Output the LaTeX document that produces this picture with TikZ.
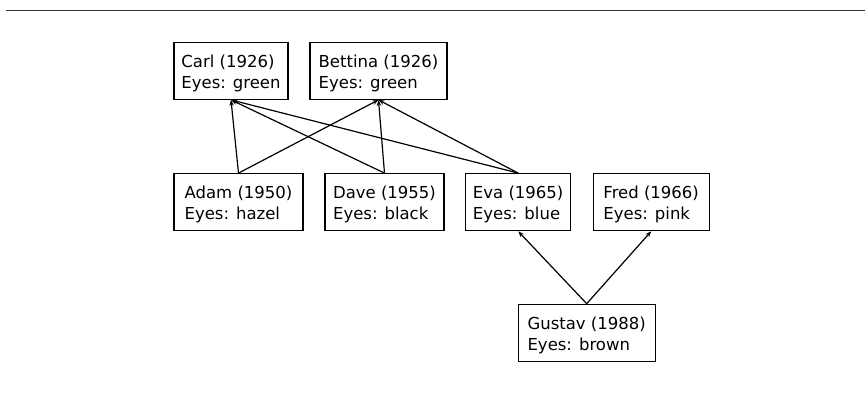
\documentclass[tikz,border=0pt]{standalone}
\usepackage{fontspec}
\setmainfont{DejaVu Sans}
\usetikzlibrary{arrows.meta}
\tikzset{
  person/.style={draw=black, line width=1.2pt, inner xsep=0pt, inner ysep=0pt,
    minimum height=57pt, align=left,
    font=\fontsize{16.5pt}{21pt}\selectfont},
  link/.style={line width=1.2pt, draw=black, -{Stealth[length=6pt,width=4.5pt]}},
  rule/.style={line width=1.7pt, draw=black!80}
}
\newcommand{\ptop}{\rule{0pt}{25pt}}
\newcommand{\pbot}{\rule[-11pt]{0pt}{11pt}}
\begin{document}
\begin{tikzpicture}[x=1pt,y=1pt]
\useasboundingbox (0,0) rectangle (865,415);
\draw[rule] (6,404.5) -- (865,404.5);
\node[person, minimum width=114pt] (carl) at (231,344.2) {\ptop Carl (1926)\\Eyes: green\pbot};
\node[person, minimum width=137pt] (bettina) at (378.5,344.2) {\ptop Bettina (1926)\\Eyes: green\pbot};
\node[person, minimum width=129pt] (adam) at (238.5,212.8) {\ptop Adam (1950)\\Eyes: hazel\pbot};
\node[person, minimum width=119pt] (dave) at (384.5,212.8) {\ptop Dave (1955)\\Eyes: black\pbot};
\node[person, minimum width=105pt] (eva) at (518.2,212.8) {\ptop Eva (1965)\\Eyes: blue\pbot};
\node[person, minimum width=116pt] (fred) at (651.2,212.8) {\ptop Fred (1966)\\Eyes: pink\pbot};
\node[person, minimum width=137pt] (gustav) at (586.7,82.2) {\ptop Gustav (1988)\\Eyes: brown\pbot};
\draw[link] (adam.north) -- (carl.south);
\draw[link] (adam.north) -- (bettina.south);
\draw[link] (dave.north) -- (carl.south);
\draw[link] (dave.north) -- (bettina.south);
\draw[link] (eva.north) -- (carl.south);
\draw[link] (eva.north) -- (bettina.south);
\draw[link] (gustav.north) -- (eva.south);
\draw[link] (gustav.north) -- (fred.south);
\end{tikzpicture}
\end{document}
